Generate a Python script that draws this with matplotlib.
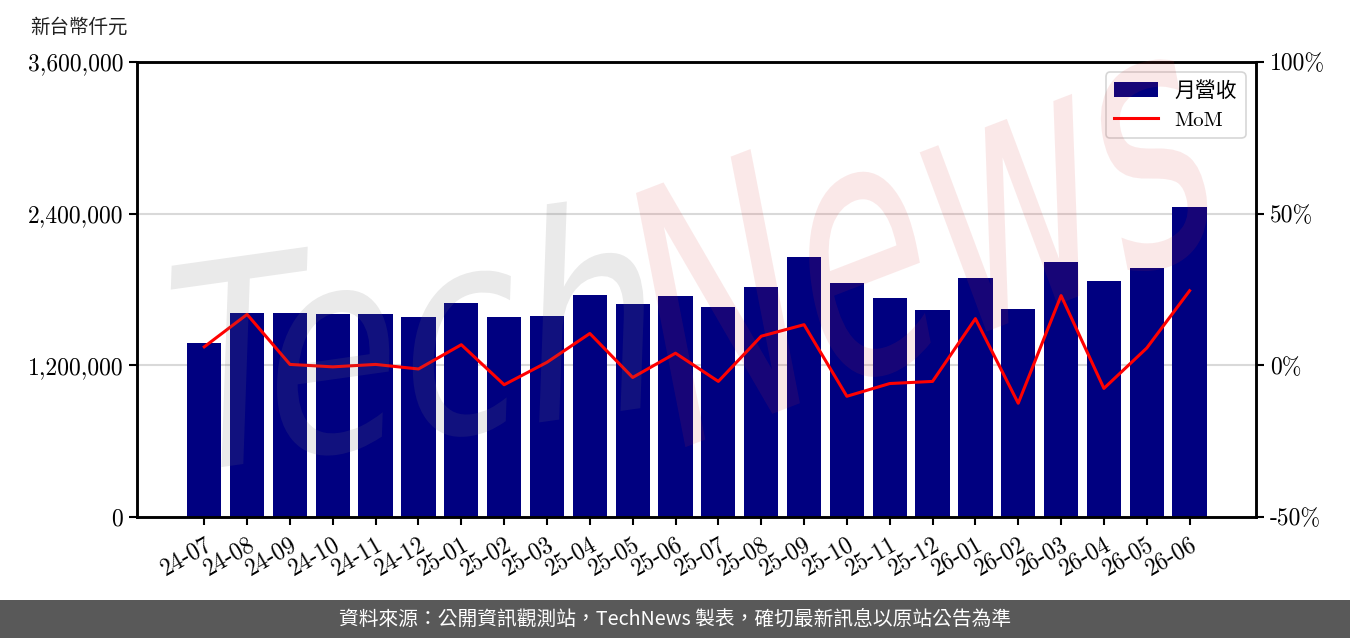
import matplotlib
matplotlib.use("Agg")
import matplotlib.pyplot as plt
from matplotlib.ticker import FixedLocator, FuncFormatter
from matplotlib.textpath import TextPath
from matplotlib.patches import PathPatch, Rectangle
from matplotlib.font_manager import FontProperties
from matplotlib.transforms import Affine2D, IdentityTransform
import numpy as np

# ---------------- data ----------------
months = ["24-07", "24-08", "24-09", "24-10", "24-11", "24-12",
          "25-01", "25-02", "25-03", "25-04", "25-05", "25-06",
          "25-07", "25-08", "25-09", "25-10", "25-11", "25-12",
          "26-01", "26-02", "26-03", "26-04", "26-05", "26-06"]
revenue = [1378600, 1615800, 1615800, 1607900, 1607900, 1584200,
           1694800, 1584200, 1592100, 1758000, 1687000, 1750000,
           1663000, 1821000, 2058000, 1853000, 1734000, 1639000,
           1892000, 1647000, 2019000, 1869000, 1971000, 2454000]
mom = [6.1, 16.8, 0.3, -0.5, 0.3, -1.2,
       6.8, -6.4, 1.0, 10.5, -4.0, 4.0,
       -5.3, 9.6, 13.4, -10.2, -6.0, -5.3,
       15.4, -12.5, 23.0, -7.6, 5.7, 24.6]
left_ticks = [0, 1200000, 2400000, 3600000]
right_ticks = [-50, 0, 50, 100]
bar_label = "月營收"
line_label = "MoM"
unit_label = "新台幣仟元"
footer = "資料來源：公開資訊觀測站，TechNews 製表，確切最新訊息以原站公告為準"

# ---------------- style ----------------
plt.rcParams["font.family"] = ["cmr10", "Noto Sans CJK TC"]
plt.rcParams["axes.formatter.use_mathtext"] = True
plt.rcParams["axes.unicode_minus"] = False

W, H = 1350, 638
fig = plt.figure(figsize=(W / 100, H / 100), dpi=100)
ax = fig.add_axes([137 / W, 1 - 517 / H, (1256 - 137) / W, (517 - 62) / H])
ax2 = ax.twinx()

x = np.arange(len(months))
bars = ax.bar(x, revenue, width=0.8, color="#000080", label=bar_label, zorder=2)
line, = ax2.plot(x, mom, color="#ff0000", lw=2.2, label=line_label, zorder=3)

ax.set_xlim(-1.57, len(months) - 1 + 1.55)
ax.set_ylim(0, 3600000)
ax2.set_ylim(-50, 100)

ax.yaxis.set_major_locator(FixedLocator(left_ticks))
ax.yaxis.set_major_formatter(FuncFormatter(lambda v, p: f"{v:,.0f}"))
ax2.yaxis.set_major_locator(FixedLocator(right_ticks))
ax2.yaxis.set_major_formatter(FuncFormatter(lambda v, p: f"{v:.0f}%"))

ax.set_xticks(x)
ax.set_xticklabels(months, rotation=30, ha="right", rotation_mode="anchor")

ax.grid(axis="y", color="#d9d9d9", lw=1.5)
ax.set_axisbelow(True)

for a in (ax, ax2):
    for s in a.spines.values():
        s.set_linewidth(1.8)
        s.set_color("black")
    a.tick_params(axis="both", which="major", labelsize=17, length=6, width=1.5,
                  direction="out", pad=4)
ax.tick_params(axis="x", pad=6)

leg = ax2.legend([bars, line], [bar_label, line_label], loc="upper right",
                 fontsize=15, frameon=True, fancybox=True, borderaxespad=0.5,
                 edgecolor="#cccccc", handlelength=2.1)
leg.get_frame().set_linewidth(1.2)

# unit label
fig.text(30 / W, 1 - 27 / H, unit_label, fontsize=14, family=["Noto Sans CJK TC"],
         ha="left", va="center", color="#222222")

# ---------------- watermark ----------------
fp = FontProperties(family="DejaVu Sans", weight="normal")
p_tech = TextPath((0, 0), "Tech", size=100, prop=fp)
p_news = TextPath((0, 0), "News", size=100, prop=fp)
cap_t = p_tech.get_extents().y1
cap_n = p_news.get_extents().y1
tr_t = (Affine2D().scale(480 / p_tech.get_extents().x1, 215 / cap_t)
        .skew_deg(10, 0).rotate_deg(8).translate(165, H - 475))
tr_n = (Affine2D().scale(590 / p_news.get_extents().x1, 255 / cap_n)
        .skew_deg(10, 0).rotate_deg(21).translate(665, H - 455))
fig.patches.append(PathPatch(tr_t.transform_path(p_tech), transform=IdentityTransform(),
                             facecolor=(0.45, 0.45, 0.45, 0.15), edgecolor="none",
                             figure=fig, zorder=10))
fig.patches.append(PathPatch(tr_n.transform_path(p_news), transform=IdentityTransform(),
                             facecolor=(0.85, 0.2, 0.2, 0.11), edgecolor="none",
                             figure=fig, zorder=10))

# ---------------- footer ----------------
fig.patches.append(Rectangle((0, 0), 1, 38 / H, transform=fig.transFigure,
                             facecolor="#595959", edgecolor="none", figure=fig, zorder=0))
fig.text(0.5, 19 / H, footer, fontsize=14.2, family=["Noto Sans CJK TC"],
         color="white", ha="center", va="center")

fig.savefig("out.png", dpi=100)
